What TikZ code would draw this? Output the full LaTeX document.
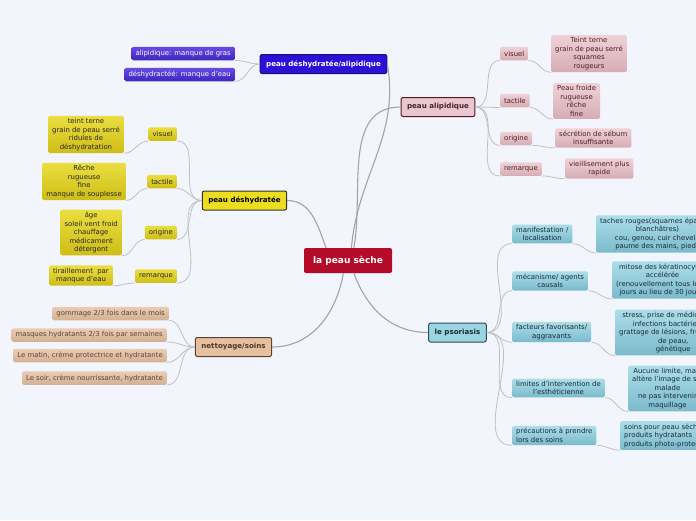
\documentclass[tikz,border=0pt]{standalone}
\usepackage{fontspec}
\setmainfont{DejaVu Sans}
\usetikzlibrary{positioning}
\definecolor{bgpage}{RGB}{243,245,253}
\definecolor{linegray}{RGB}{192,192,198}
\definecolor{rootred}{RGB}{180,12,40}
\definecolor{bluefill}{RGB}{45,15,215}
\definecolor{bluetop}{RGB}{105,75,228}
\definecolor{bluebot}{RGB}{62,36,192}
\definecolor{pinkfill}{RGB}{232,200,206}
\definecolor{pinkborder}{RGB}{92,22,36}
\definecolor{pinktext}{RGB}{80,30,40}
\definecolor{pinktop}{RGB}{238,210,215}
\definecolor{pinkbot}{RGB}{214,172,180}
\definecolor{yellowfill}{RGB}{236,221,30}
\definecolor{yellowtop}{RGB}{234,222,64}
\definecolor{yellowbot}{RGB}{206,189,22}
\definecolor{tanfill}{RGB}{229,192,158}
\definecolor{tanborder}{RGB}{88,68,52}
\definecolor{tantext}{RGB}{92,70,55}
\definecolor{tantop}{RGB}{234,204,180}
\definecolor{tanbot}{RGB}{212,176,146}
\definecolor{cyanfill}{RGB}{156,213,226}
\definecolor{cyanborder}{RGB}{45,76,92}
\definecolor{cyantext}{RGB}{28,42,52}
\definecolor{cyantop}{RGB}{172,222,234}
\definecolor{cyanbot}{RGB}{122,186,204}
\newcommand\leaffont{\fontsize{6.9}{8.5}\selectfont}
\newcommand\topicfont{\fontsize{7.1}{8.5}\selectfont\bfseries}
\tikzset{
    x=1pt, y=-1pt,
    branch/.style={draw=linegray, line width=0.8pt},
    mainbranch/.style={draw=linegray!85!black, line width=1.1pt},
    root/.style={fill=rootred, text=white, rounded corners=2pt, font=\fontsize{9}{10}\selectfont\bfseries, minimum width=88pt, minimum height=25pt},
    topic/.style={draw, line width=1pt, rounded corners=2pt, font=\topicfont, inner xsep=6pt, minimum height=19pt},
    leaf/.style={rounded corners=1.5pt, font=\leaffont, inner xsep=4pt, inner ysep=2.5pt, minimum height=13.5pt, align=center},
    bluetopic/.style={topic, fill=bluefill, draw=bluefill!60!black, text=white},
    blueleaf/.style={leaf, top color=bluetop, bottom color=bluebot, text=white},
    pinktopic/.style={topic, fill=pinkfill, draw=pinkborder, text=pinktext},
    pinkleaf/.style={leaf, top color=pinktop, bottom color=pinkbot, text=pinktext},
    yellowtopic/.style={topic, fill=yellowfill, draw=black!80, text=black},
    yellowleaf/.style={leaf, top color=yellowtop, bottom color=yellowbot, text=black!85},
    tantopic/.style={topic, fill=tanfill, draw=tanborder, text=tantext!80!black},
    tanleaf/.style={leaf, top color=tantop, bottom color=tanbot, text=tantext},
    cyantopic/.style={topic, fill=cyanfill, draw=cyanborder, text=cyantext},
    cyanleaf/.style={leaf, top color=cyantop, bottom color=cyanbot, text=cyantext}
}

\begin{document}
\begin{tikzpicture}
\useasboundingbox (0,0) rectangle (696,520);
\fill[bgpage] (0,0) rectangle (696,520);
\clip (0,0) rectangle (696,520);

\node[root] (root) at (348,260.5) {la peau sèche};

% peau deshydratee/alipidique
\node[bluetopic] (mixte) at (323.5,64) {peau déshydratée/alipidique};
\node[blueleaf, anchor=east] (mixgras) at (235,53.5) {alipidique: manque de gras};
\node[blueleaf, anchor=east] (mixeau) at (235,74.5) {déshydractéé: manque d'eau};

% peau alipidique
\node[pinktopic] (alip) at (438,107) {peau alipidique};
\node[pinkleaf, anchor=west] (alipvis) at (500,53.5) {visuel};
\node[pinkleaf, anchor=west] (aliptac) at (500,100.5) {tactile};
\node[pinkleaf, anchor=west] (alipori) at (500,138.5) {origine};
\node[pinkleaf, anchor=west] (aliprem) at (500,169) {remarque};
\node[pinkleaf, anchor=west] (alipvisd) at (551,53.5) {Teint terne\\grain de peau serré\\squames\\rougeurs};
\node[pinkleaf, anchor=west] (aliptacd) at (553,101) {Peau froide\\rugueuse\\rêche\\fine};
\node[pinkleaf, anchor=west] (aliporid) at (555,138) {sécrétion de sébum\\insuffisante};
\node[pinkleaf, anchor=west] (alipremd) at (565,168.5) {vieillisement plus\\rapide};

% peau deshydratee
\node[yellowtopic] (deshy) at (244.5,200.5) {peau déshydratée};
\node[yellowleaf, anchor=east] (deshyvis) at (177,134) {visuel};
\node[yellowleaf, anchor=east] (deshytac) at (177,181.5) {tactile};
\node[yellowleaf, anchor=east] (deshyori) at (177,232.5) {origine};
\node[yellowleaf, anchor=east] (deshyrem) at (177,276) {remarque};
\node[yellowleaf, anchor=east] (deshyvisd) at (124,134.5) {teint terne\\grain de peau serré\\ridules de\\déshydratation};
\node[yellowleaf, anchor=east] (deshytacd) at (126,181.5) {Rêche\\rugueuse\\fine\\manque de souplesse};
\node[yellowleaf, anchor=east] (deshyorid) at (122,232.5) {âge\\soleil vent froid\\chauffage\\médicament\\détergent};
\node[yellowleaf, anchor=east] (deshyremd) at (113,275.5) {tiraillement~ par\\manque d'eau};

% nettoyage/soins
\node[tantopic] (soins) at (233.5,347) {nettoyage/soins};
\node[tanleaf, anchor=east] (gommage) at (169,313.5) {gommage 2/3 fois dans le mois};
\node[tanleaf, anchor=east] (masques) at (167,335) {masques hydratants 2/3 fois par semaines};
\node[tanleaf, anchor=east] (matin) at (167,355.5) {Le matin, crème protectrice et hydratante};
\node[tanleaf, anchor=east] (soir) at (167,378) {Le soir, crème nourrissante, hydratante};

% le psoriasis
\node[cyantopic] (psor) at (457.5,332.5) {le psoriasis};
\node[cyanleaf, anchor=west] (psorman) at (512,234) {manifestation /\\localisation};
\node[cyanleaf, anchor=west] (psormec) at (512,281) {mécanisme/ agents\\causals};
\node[cyanleaf, anchor=west] (psorfac) at (512,332) {facteurs favorisants/\\aggravants};
\node[cyanleaf, anchor=west] (psorlim) at (512,388) {limites d'intervention de\\l'esthéticienne};
\node[cyanleaf, anchor=west, align=left] (psorpre) at (512,435.5) {précautions à prendre\\lors des soins};
\node[cyanleaf, anchor=west] (psormand) at (596,234) {taches rouges(squames épaisses\\blanchâtres)\\cou, genou, cuir chevelu\\paume des mains, pieds};
\node[cyanleaf, anchor=west] (psormecd) at (612,280) {mitose des kératinocytes\\accélérée\\(renouvellement tous les 4\\jours au lieu de 30 jours)};
\node[cyanleaf, anchor=west] (psorfacd) at (615,332.5) {stress, prise de médicaments\\infections bactériennes\\grattage de lésions, frottement\\de peau,\\génétique};
\node[cyanleaf, anchor=west] (psorlimd) at (628,388.5) {Aucune limite, mais\\altère l'image de soi\\malade\\ne pas intervenir\\maquillage};
\node[cyanleaf, anchor=west, align=left] (psorpred) at (620,435.5) {soins pour peau sèche\\produits hydratants\\produits photo-protecteurs};

% branches from the centre
\draw[mainbranch] (root.75) to[out=85, in=-80] (mixte.east);
\draw[mainbranch] (root.65) to[out=80, in=180] (alip.west);
\draw[mainbranch] (root.150) to[out=110, in=0] (deshy.east);
\draw[mainbranch] (root.250) to[out=-100, in=0] (soins.east);
\draw[mainbranch] (root.295) to[out=-70, in=180] (psor.west);

\draw[branch] (mixte.west) to[out=180, in=0] (mixgras.south east);
\draw[branch] (mixte.west) to[out=180, in=0] (mixeau.south east);

\foreach \k in {vis,tac,ori,rem} {
    \draw[branch] (alip.east) to[out=0, in=180] (alip\k.south west);
    \draw[branch] (alip\k.south east) to[out=0, in=180] (alip\k d.south west);
    \draw[branch] (deshy.west) to[out=180, in=0] (deshy\k.south east);
    \draw[branch] (deshy\k.south west) to[out=180, in=0] (deshy\k d.south east);
}

\foreach \k in {gommage,masques,matin,soir}
    \draw[branch] (soins.west) to[out=180, in=0] (\k.south east);

\foreach \k in {man,mec,fac,lim,pre} {
    \draw[branch] (psor.east) to[out=0, in=180] (psor\k.south west);
    \draw[branch] (psor\k.south east) to[out=0, in=180] (psor\k d.south west);
}
\end{tikzpicture}
\end{document}
